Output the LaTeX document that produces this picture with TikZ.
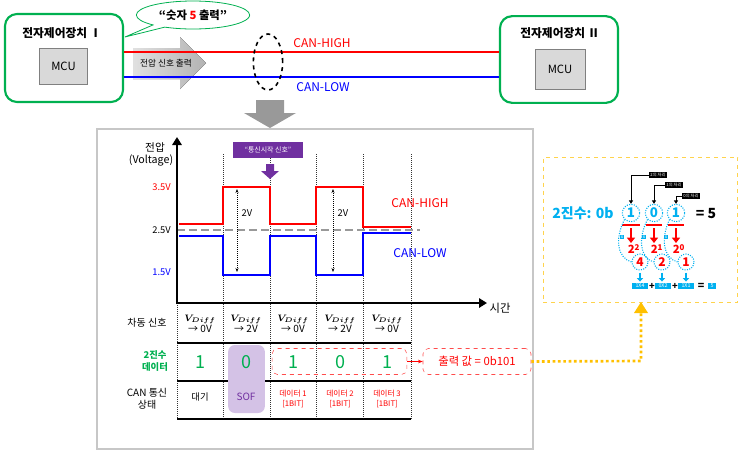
\documentclass[tikz,border=0pt]{standalone}
\usepackage{fontspec}
\setmainfont{Noto Sans CJK KR}
\usepackage{bm}
\usetikzlibrary{shapes.callouts,shapes.geometric,arrows.meta}
\definecolor{cgreen}{HTML}{00B050}
\definecolor{ccyan}{HTML}{00B0F0}
\definecolor{cpurple}{HTML}{7030A0}
\definecolor{lpurple}{HTML}{D4C2E6}
\definecolor{cyel}{HTML}{FFC000}
\definecolor{cred}{HTML}{FF0000}
\definecolor{cblue}{HTML}{0000FF}
\tikzset{
  devbox/.style={draw=cgreen, line width=1.6pt, rounded corners=9pt, fill=white},
  mcubox/.style={draw=gray, fill=black!15, line width=0.6pt},
  lbl/.style={inner sep=0pt, font=\fontsize{7}{8}\selectfont},
  vline/.style={densely dotted, line width=0.5pt, black!80},
  tline/.style={line width=1.3pt},
  bitnum/.style={text=cgreen, font=\fontsize{13.5}{14}\selectfont, inner sep=0pt},
  vdiff/.style={align=center, font=\fontsize{7.5}{8.5}\selectfont, inner sep=0pt},
  rtext/.style={text=cred, align=center, font=\fontsize{5.8}{7}\selectfont, inner sep=0pt},
  dcirc/.style={circle, draw=ccyan, densely dotted, line width=0.8pt, minimum size=13pt, inner sep=0pt},
  xbox/.style={fill=ccyan, text=white, inner sep=0.6pt, font=\fontsize{3.5}{4}\selectfont},
  blabel/.style={fill=black, text=white, inner sep=0.8pt, font=\fontsize{3.2}{4}\selectfont},
  rarrow/.style={-{Triangle[length=4pt,width=6pt]}, cred, line width=2.2pt},
  carrow/.style={-{Triangle[length=2.5pt,width=4.5pt]}, ccyan, line width=1.5pt},
}
\begin{document}
\begin{tikzpicture}[x=0.75pt,y=-0.75pt]
\useasboundingbox (0,0) rectangle (743,458);

% ---------- top part ----------
\fill[left color=black!12, right color=black!30]
  (133,48) -- (180,48) -- (180,37) -- (206,63) -- (180,89) -- (180,79) -- (133,79) -- cycle;
\node[font=\fontsize{6.5}{7}\selectfont, inner sep=0pt] (sigout) at (166,63) {전압 신호 출력};

\node[devbox, minimum width=88.5pt, minimum height=66pt] (dev1) at (64,58) {};
\node[devbox, minimum width=88.5pt, minimum height=65pt] (dev2) at (559,59.5) {};
\node[font=\bfseries\fontsize{8.8}{10}\selectfont, inner sep=0pt] (t1) at (62,33) {전자제어장치 Ⅰ};
\node[font=\bfseries\fontsize{8.8}{10}\selectfont, inner sep=0pt] (t2) at (560,33) {전자제어장치 Ⅱ};
\node[mcubox, minimum width=36.5pt, minimum height=27pt, font=\fontsize{8.5}{9}\selectfont] (mcu1) at (63.5,66) {MCU};
\node[mcubox, minimum width=37.5pt, minimum height=30pt, font=\fontsize{8.5}{9}\selectfont] (mcu2) at (560,69) {MCU};

\coordinate (h1) at (dev1.east |- 0,52);
\coordinate (h2) at (dev2.west |- 0,52);
\coordinate (l1) at (dev1.east |- 0,77);
\coordinate (l2) at (dev2.west |- 0,77);
\draw[cred, line width=1.1pt] (h1) -- (h2);
\draw[cblue, line width=1.1pt] (l1) -- (l2);

\node[ellipse callout, draw=cgreen, line width=0.6pt, fill=white, minimum width=85pt, minimum height=21pt,
      callout absolute pointer={(125,37)}, font=\bfseries\fontsize{8.5}{9}\selectfont, inner sep=0pt] (bub) at (193,15)
      {“숫자 \textcolor{cred}{5} 출력”};

\node[ellipse, draw, dashed, line width=1.2pt, minimum width=22pt, minimum height=42pt, inner sep=0pt] (twist) at (268,62) {};
\node[text=cred, font=\fontsize{9}{9}\selectfont, inner sep=0pt] (chl) at (322,43) {CAN-HIGH};
\node[text=cblue, font=\fontsize{9}{9}\selectfont, inner sep=0pt] (cll) at (323,87) {CAN-LOW};

\fill[black!40] (256,100) -- (284,100) -- (284,113) -- (296,113) -- (270,128) -- (244,113) -- (256,113) -- cycle;

% ---------- main panel ----------
\node[draw=black!22, line width=0.9pt, minimum width=327pt, minimum height=240pt] (panel) at (315,289) {};

\node[lbl, font=\fontsize{8}{9}\selectfont] (va) at (155,147) {전압};
\node[lbl, font=\fontsize{8}{9}\selectfont] (vb) at (151,160) {(Voltage)};
\node[lbl, text=cred, anchor=east] (v35) at (171,187) {3.5V};
\node[lbl, anchor=east] (v25) at (171,230) {2.5V};
\node[lbl, text=cblue, anchor=east] (v15) at (171,272) {1.5V};

% dotted verticals
\foreach \x in {223,270,316,363,411} \draw[vline] (\x,154) -- (\x,419);
\draw[vline] (177,303) -- (177,419);

% dashed 2.5V line
\draw[dashed, black!40, line width=1pt, dash pattern=on 6pt off 3pt] (177,230) -- (420,230);

% waveforms
\draw[cred, line width=1.3pt] (179,224) -- (223,224) -- (223,187) -- (270,187) -- (270,224) -- (316,224) -- (316,187) -- (363,187) -- (363,227) -- (411,227);
\draw[cblue, line width=1.3pt] (179,236) -- (223,236) -- (223,275) -- (270,275) -- (270,236) -- (316,236) -- (316,275) -- (363,275) -- (363,233) -- (411,233);

% axes
\draw[line width=2pt, -{Triangle[length=6pt,width=7pt]}] (177,304) -- (177,137);
\draw[line width=2pt, -{Triangle[length=6pt,width=7pt]}] (176,303) -- (487,303);
\node[lbl, font=\fontsize{8.5}{9}\selectfont] (time) at (500,308) {시간};

% 2V arrows
\draw[densely dotted, {Stealth[length=3pt]}-{Stealth[length=3pt]}, line width=0.5pt] (237,189) -- (237,272);
\node[lbl] (d1) at (247,213) {2V};
\draw[densely dotted, {Stealth[length=3pt]}-{Stealth[length=3pt]}, line width=0.5pt] (333,189) -- (333,272);
\node[lbl] (d2) at (343,213) {2V};

\node[text=cred, font=\fontsize{9}{9}\selectfont, inner sep=0pt] (chl2) at (420,203) {CAN-HIGH};
\node[text=cblue, font=\fontsize{9}{9}\selectfont, inner sep=0pt] (cll2) at (420,253) {CAN-LOW};

% start signal label
\node[fill=cpurple, text=white, minimum width=52pt, minimum height=12pt, inner sep=0pt, font=\fontsize{5.2}{6}\selectfont] (sof) at (268,150) {“통신시작 신호”};
\fill[cpurple] (266,164) -- (274,164) -- (274,171) -- (279,171) -- (270,179) -- (261,171) -- (266,171) -- cycle;

% ---------- table ----------
\draw[tline] (177,343) -- (411,343);
\draw[tline] (177,381) -- (411,381);
\draw[tline] (177,419) -- (411,419);

\node[lbl, font=\fontsize{7.5}{8}\selectfont] (r1) at (147,323) {차동 신호};
\node[lbl, text=cgreen, align=center, font=\bfseries\fontsize{7}{9}\selectfont] (r2) at (155,361) {2진수\\데이터};
\node[lbl, align=center, font=\fontsize{7.5}{9}\selectfont] (r3) at (147,399) {CAN 통신\\상태};

\node[vdiff] (c1) at (200,324) {$\bm{V_{Diff}}$\\→ 0V};
\node[vdiff] (c2) at (246,324) {$\bm{V_{Diff}}$\\→ 2V};
\node[vdiff] (c3) at (293,324) {$\bm{V_{Diff}}$\\→ 0V};
\node[vdiff] (c4) at (340,324) {$\bm{V_{Diff}}$\\→ 2V};
\node[vdiff] (c5) at (387,324) {$\bm{V_{Diff}}$\\→ 0V};

\node[fill=lpurple, rounded corners=5pt, minimum width=27.5pt, minimum height=51pt] (sofbox) at (246.5,379) {};
\node[draw=cred!70, dashed, rounded corners=4pt, minimum width=101pt, minimum height=19.5pt] (databox) at (339.5,361.5) {};
\node[draw=cred!70, dashed, rounded corners=4pt, minimum width=81pt, minimum height=19.5pt, text=cred, font=\fontsize{8.5}{9}\selectfont] (outbox) at (477,361.5) {출력 값 = 0b101};
\draw[cred, -{Stealth[length=3.5pt]}, line width=0.6pt] (databox.east) -- (outbox.west);

\node[bitnum] (b1) at (200,362) {1};
\node[bitnum] (b2) at (246,362) {0};
\node[bitnum] (b3) at (293,362) {1};
\node[bitnum] (b4) at (340,362) {0};
\node[bitnum] (b5) at (387,362) {1};

\node[lbl, font=\fontsize{7}{8}\selectfont] (s1) at (200,397) {대기};
\node[lbl, text=cpurple, font=\fontsize{7.5}{8}\selectfont] (s2) at (246,397) {SOF};
\node[rtext] (s3) at (293,399) {데이터 1\\{[1BIT]}};
\node[rtext] (s4) at (340,399) {데이터 2\\{[1BIT]}};
\node[rtext] (s5) at (387,399) {데이터 3\\{[1BIT]}};

% ---------- right panel ----------
\node[draw=cyel!70, dashed, line width=0.6pt, minimum width=146pt, minimum height=108.75pt] (rpanel) at (640.5,229.5) {};
\coordinate (ybend) at (641,361);
\draw[cyel, line width=2pt, dotted] (outbox.east) -- (ybend) -- (641,312);
\fill[cyel] (641,302) -- (648,313) -- (634,313) -- cycle;

\node[text=ccyan, font=\bfseries\fontsize{10.5}{11}\selectfont, inner sep=0pt] (bin) at (583,213) {2진수: 0b};
\node[dcirc, text=ccyan, font=\bfseries\fontsize{10}{11}\selectfont] (d2c) at (631,213) {1};
\node[dcirc, text=ccyan, font=\bfseries\fontsize{10}{11}\selectfont] (d1c) at (654,213) {0};
\node[dcirc, text=ccyan, font=\bfseries\fontsize{10}{11}\selectfont] (d0c) at (676,213) {1};
\node[font=\bfseries\fontsize{10.5}{11}\selectfont, inner sep=0pt] (eq5) at (706,214) {=\ 5};

\node[blabel] (p2) at (658,175) {2의 자리};
\node[blabel] (p1) at (674,185) {1의 자리};
\node[blabel] (p0) at (691,196) {0의 자리};
\draw[-{Triangle[length=2.5pt,width=3pt]}, line width=0.6pt] (p2.west) -| (d2c.north);
\draw[-{Triangle[length=2.5pt,width=3pt]}, line width=0.6pt] (p1.west) -| (d1c.north);
\draw[-{Triangle[length=2.5pt,width=3pt]}, line width=0.6pt] (p0.west) -| (d0c.north);

\draw[cred, line width=1.5pt] (622,225) -- (640,225);
\draw[cred, line width=1.5pt] (646,225) -- (662,225);
\draw[cred, line width=1.5pt] (668,225) -- (684,225);

\coordinate (a2s) at (631,228); \coordinate (a2e) at (631,243);
\coordinate (a1s) at (654,228); \coordinate (a1e) at (654,243);
\coordinate (a0s) at (676,228); \coordinate (a0e) at (676,243);
\draw[rarrow] (a2s) -- (a2e);
\draw[rarrow] (a1s) -- (a1e);
\draw[rarrow] (a0s) -- (a0e);

\node[xbox] (x2) at (622,237) {x};
\node[xbox] (x1) at (644,237) {x};
\node[xbox] (x0) at (666,237) {x};

\node[dcirc, minimum size=12pt, text=cred, font=\bfseries\fontsize{9}{10}\selectfont] (e2c) at (640,262) {4};
\node[dcirc, minimum size=12pt, text=cred, font=\bfseries\fontsize{9}{10}\selectfont] (e1c) at (662,262) {2};
\node[dcirc, minimum size=12pt, text=cred, font=\bfseries\fontsize{9}{10}\selectfont] (e0c) at (686,262) {1};

\draw[ccyan, densely dotted, line width=0.8pt] (d2c.south west) .. controls (614,240) and (618,258) .. (e2c.west);
\draw[ccyan, densely dotted, line width=0.8pt] (d1c.south west) .. controls (637,240) and (641,258) .. (e1c.west);
\draw[ccyan, densely dotted, line width=0.8pt] (d0c.south west) .. controls (660,240) and (664,258) .. (e0c.west);

\node[text=cred, font=\bfseries\fontsize{8.5}{9}\selectfont, inner sep=0pt] (w2) at (634,249) {2$^{\mathbf{2}}$};
\node[text=cred, font=\bfseries\fontsize{8.5}{9}\selectfont, inner sep=0pt] (w1) at (657,249) {2$^{\mathbf{1}}$};
\node[text=cred, font=\bfseries\fontsize{8.5}{9}\selectfont, inner sep=0pt] (w0) at (679,249) {2$^{\mathbf{0}}$};

\draw[carrow] (e2c.south) ++(0,2) -- ++(0,9);
\draw[carrow] (e1c.south) ++(0,2) -- ++(0,9);
\draw[carrow] (e0c.south) ++(0,2) -- ++(0,9);

\node[xbox, minimum width=12pt, font=\fontsize{4}{5}\selectfont] (f1) at (640,286) {1X4};
\node[inner sep=0pt, font=\bfseries\fontsize{7}{8}\selectfont] (pl1) at (652,286) {+};
\node[xbox, minimum width=12pt, font=\fontsize{4}{5}\selectfont] (f2) at (663,286) {0X2};
\node[inner sep=0pt, font=\bfseries\fontsize{7}{8}\selectfont] (pl2) at (675,286) {+};
\node[xbox, minimum width=12pt, font=\fontsize{4}{5}\selectfont] (f3) at (686,286) {1X1};
\node[inner sep=0pt, font=\bfseries\fontsize{8}{8}\selectfont] (eqb) at (701,286) {=};
\node[xbox, minimum width=6pt, font=\fontsize{4}{5}\selectfont] (f5) at (712,286) {5};

\end{tikzpicture}
\end{document}
